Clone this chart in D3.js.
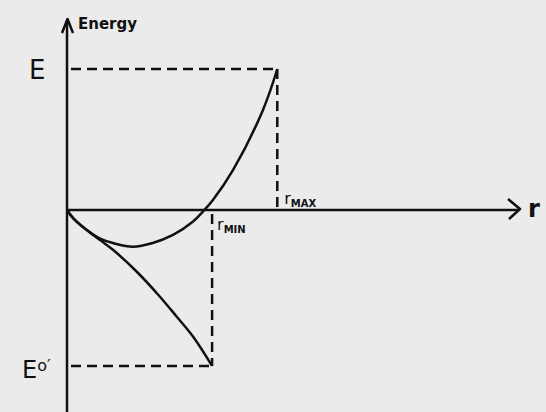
<!DOCTYPE html>
<html>
<head>
<meta charset="utf-8">
<script src="https://cdn.jsdelivr.net/npm/d3@7"></script>
<style>
  body { margin: 0; background: #ebebeb; }
  text { font-family: "DejaVu Sans", sans-serif; fill: #111; }
</style>
</head>
<body>
<svg id="chart"></svg>
<script>
// sketch: energy vs separation r (arbitrary units)
var rMax = 5, rMin = 3.45
var eTop = 10, eBottom = -11.06

// upper curve (dips, then rises to E at rMax)
var upperR = [0, 0.15, 0.47, 0.8, 1.09, 1.57, 2.04, 2.52, 2.99, 3.23, 3.47, 3.95, 4.66, 5]
var upperE = [0, -0.59, -1.42, -2.05, -2.34, -2.6, -2.34, -1.77, -0.83, -0.12, 0.71, 2.84, 7.1, 10]
// lower curve (falls to E0' at rMin)
var lowerR = [0, 0.15, 0.47, 0.785, 1.1, 1.66, 2.21, 2.61, 3.0, 3.45]
var lowerE = [0, -0.59, -1.42, -2.13, -2.84, -4.38, -6.15, -7.57, -8.99, -11.06]

var screen = {width: 546, height: 412}
var svg = d3.select("#chart")
  .attr("width", screen.width)
  .attr("height", screen.height)

var x = d3.scaleLinear().domain([0, 10.7]).range([67, 517])
var y = d3.scaleLinear().domain([0, 10]).range([210, 69])

var ink = "#111"

// axes
svg.append("line").attr("x1", x(0)).attr("x2", x(0)).attr("y1", 20).attr("y2", 412)
  .attr("stroke", ink).attr("stroke-width", 2.5)
svg.append("line").attr("x1", x(0)).attr("x2", 519).attr("y1", y(0)).attr("y2", y(0))
  .attr("stroke", ink).attr("stroke-width", 2.5)
// arrow heads
svg.append("path").attr("d", "M62,33 L67.5,19 L73,33")
  .attr("fill", "none").attr("stroke", ink).attr("stroke-width", 2.5).attr("stroke-linejoin", "round")
svg.append("path").attr("d", "M508,199 L520,209 L509,219")
  .attr("fill", "none").attr("stroke", ink).attr("stroke-width", 2.5).attr("stroke-linejoin", "round")

// dashed guide lines
var dash = function(x1, y1, x2, y2) {
  svg.append("line").attr("x1", x1).attr("y1", y1).attr("x2", x2).attr("y2", y2)
    .attr("stroke", ink).attr("stroke-width", 2.5).style("stroke-dasharray", "10,6")
}
dash(x(0) + 4, y(eTop), x(rMax), y(eTop))
dash(x(rMax), y(eTop), x(rMax), y(0))
dash(x(0) + 4, y(eBottom), x(rMin), y(eBottom))
dash(x(rMin), y(0) + 4, x(rMin), y(eBottom))

// curves
var line = d3.line()
  .x(function(d) { return x(d[0]) })
  .y(function(d) { return y(d[1]) })
  .curve(d3.curveCatmullRom)

svg.append("path").datum(d3.zip(upperR, upperE)).attr("d", line)
  .attr("fill", "none").attr("stroke", ink).attr("stroke-width", 2.5)
svg.append("path").datum(d3.zip(lowerR, lowerE)).attr("d", line)
  .attr("fill", "none").attr("stroke", ink).attr("stroke-width", 2.5)

// labels
svg.append("text").attr("x", 78).attr("y", 29).text("Energy")
  .style("font-size", "15px").style("font-weight", "bold")
svg.append("text").attr("x", 29).attr("y", y(eTop) + 10).text("E")
  .style("font-size", "26px")
var e0 = svg.append("text").attr("x", 22).attr("y", y(eBottom) + 12)
e0.append("tspan").text("E").style("font-size", "24px")
e0.append("tspan").text("o′").attr("dy", -7).style("font-size", "16px")
svg.append("text").attr("x", 528).attr("y", 217).text("r")
  .style("font-size", "24px").style("font-weight", "bold")

var sub = function(xp, yp, s) {
  var t = svg.append("text").attr("x", xp).attr("y", yp)
  t.append("tspan").text("r").style("font-size", "16px")
  t.append("tspan").text(s).attr("dy", 3).style("font-size", "10px").style("font-weight", "bold")
}
sub(x(rMax) + 7, 204, "MAX")
sub(x(rMin) + 5, 230, "MIN")
</script>
</body>
</html>
